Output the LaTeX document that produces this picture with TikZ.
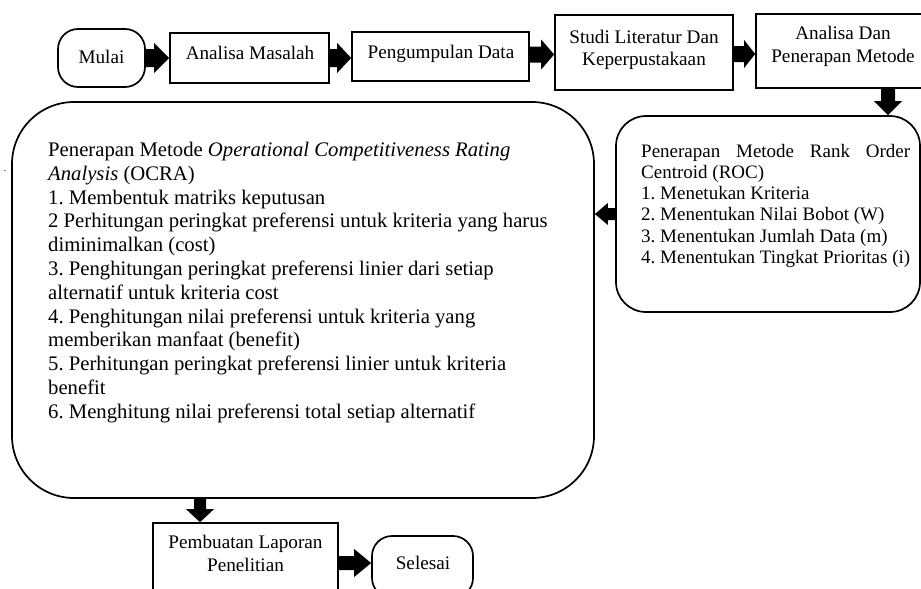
\documentclass[tikz,border=0pt]{standalone}
\usepackage{fontspec}
\setmainfont{Liberation Serif}
\usetikzlibrary{calc}
\frenchspacing
% block arrows: #1 start, #2 end, #3 half shaft, #4 half head, #5 head length
\newcommand\blkR[5]{\fill let \p1=(#1), \p2=(#2) in (\x1,\y1+#3) -- (\x2-#5,\y1+#3) -- (\x2-#5,\y1+#4) -- (\x2,\y1) -- (\x2-#5,\y1-#4) -- (\x2-#5,\y1-#3) -- (\x1,\y1-#3) -- cycle;}
\newcommand\blkL[5]{\fill let \p1=(#1), \p2=(#2) in (\x1,\y1+#3) -- (\x2+#5,\y1+#3) -- (\x2+#5,\y1+#4) -- (\x2,\y1) -- (\x2+#5,\y1-#4) -- (\x2+#5,\y1-#3) -- (\x1,\y1-#3) -- cycle;}
\newcommand\blkD[5]{\fill let \p1=(#1), \p2=(#2) in (\x1+#3,\y1) -- (\x1+#3,\y2+#5) -- (\x1+#4,\y2+#5) -- (\x1,\y2) -- (\x1-#4,\y2+#5) -- (\x1-#3,\y2+#5) -- (\x1-#3,\y1) -- cycle;}
\tikzset{
  box/.style={draw, line width=1.7pt, inner sep=0pt},
  term/.style={box, rounded corners=20pt},
  txt/.style={inner sep=0pt, align=center, font=\fontsize{19.2}{22}\selectfont},
  body/.style={inner sep=0pt, align=left, anchor=north west},
}
\begin{document}
\frenchspacing
\begin{tikzpicture}[x=1pt,y=-1pt]
\useasboundingbox (0,0) rectangle (921,589);
% boxes
\node[term, minimum width=87pt, minimum height=58pt] (mulai) at (101.5,58) {};
\node[box, minimum width=159pt, minimum height=50pt] (am) at (249.5,58) {};
\node[box, minimum width=177pt, minimum height=49pt] (pd) at (440.5,56.5) {};
\node[box, minimum width=178pt, minimum height=75pt] (sl) at (644,52.5) {};
\node[box, minimum width=174pt, minimum height=74pt] (ad) at (843,51) {};
\node[box, rounded corners=30pt, minimum width=304pt, minimum height=196pt] (roc) at (768,214) {};
\node[box, rounded corners=62pt, minimum width=582pt, minimum height=396pt] (ocra) at (303,300) {};
\node[box, minimum width=185pt, minimum height=76pt] (pl) at (245.5,561) {};
\node[term, minimum width=101pt, minimum height=62pt] (sel) at (422.5,567) {};
% texts
\node[txt, anchor=base] (tmulai) at (101.5,63) {Mulai};
\node[txt, anchor=base] (tam) at (250,59) {Analisa Masalah};
\node[txt, anchor=base] (tpd) at (441,58) {Pengumpulan Data};
\node[txt, anchor=north, font=\fontsize{19.2}{21.5}\selectfont] (tsl) at (644,30) {Studi Literatur Dan\\Keperpustakaan};
\node[txt, anchor=north, font=\fontsize{19.2}{23}\selectfont] (tad) at (843,26) {Analisa Dan\\Penerapan Metode};
\node[txt, anchor=north, font=\fontsize{19.2}{23}\selectfont] (tpl) at (245.5,535) {Pembuatan Laporan\\Penelitian};
\node[txt, anchor=base] (tsel) at (423,569) {Selesai};
\node[body, font=\fontsize{19}{21.2}\selectfont] (troc) at (641,144) {%
\makebox[269pt][s]{Penerapan Metode Rank Order}\\
Centroid (ROC)\\
1. Menetukan Kriteria\\
2. Menentukan Nilai Bobot (W)\\
3. Menentukan Jumlah Data (m)\\
4. Menentukan Tingkat Prioritas (i)};
\node[body, font=\fontsize{20.7}{23.8}\selectfont] (tocra) at (48,142) {%
Penerapan Metode \textit{Operational Competitiveness Rating}\\
\textit{Analysis} (OCRA)\\
1. Membentuk matriks keputusan\\
2 Perhitungan peringkat preferensi untuk kriteria yang harus\\
diminimalkan (cost)\\
3. Penghitungan peringkat preferensi linier dari setiap\\
alternatif untuk kriteria cost\\
4. Penghitungan nilai preferensi untuk kriteria yang\\
memberikan manfaat (benefit)\\
5. Perhitungan peringkat preferensi linier untuk kriteria\\
benefit\\
6. Menghitung nilai preferensi total setiap alternatif};
\node[inner sep=0pt, font=\fontsize{10}{10}\selectfont] (dot) at (5,171) {.};
% connectors
\coordinate (d1) at (888,0);
\coordinate (d2) at (200,0);
\blkR{mulai.east}{mulai.east -| am.west}{9pt}{15pt}{15pt}
\blkR{am.east}{am.east -| pd.west}{9pt}{15pt}{14pt}
\blkR{$(pd.east)+(0,-2)$}{$(pd.east -| sl.west)+(0,-2)$}{8pt}{15pt}{13pt}
\blkR{$(sl.east)+(0,1.5)$}{$(sl.east -| ad.west)+(0,1.5)$}{8pt}{14pt}{11pt}
\blkD{ad.south -| d1}{roc.north -| d1}{7pt}{14pt}{14pt}
\blkL{roc.west}{roc.west -| ocra.east}{6pt}{11pt}{13pt}
\blkD{ocra.south -| d2}{pl.north -| d2}{6pt}{14pt}{13pt}
\blkR{$(pl.east)+(0,2)$}{$(pl.east -| sel.west)+(0,2)$}{7pt}{14pt}{17pt}
\end{tikzpicture}
\end{document}
